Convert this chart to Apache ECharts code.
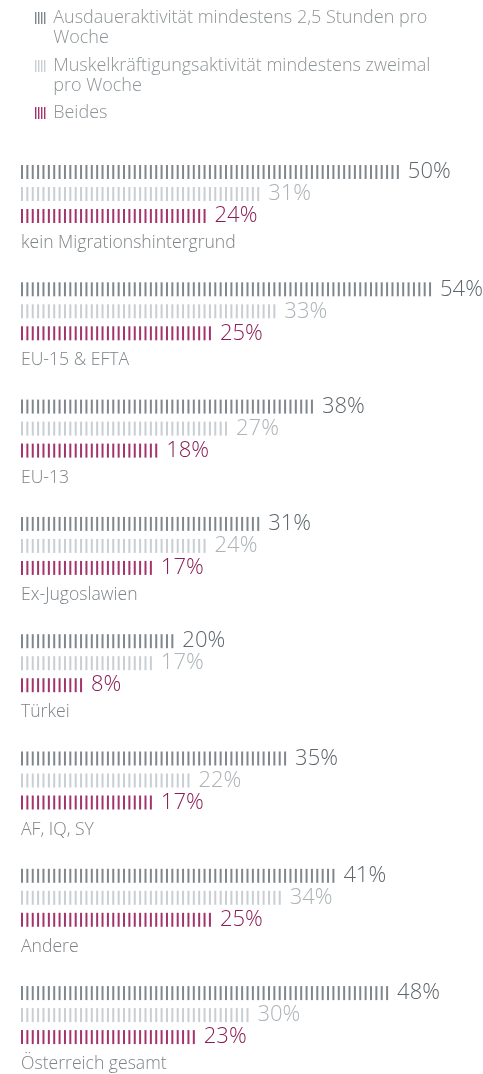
<!DOCTYPE html>
<html>
<head>
<meta charset="utf-8">
<script src="https://cdn.jsdelivr.net/npm/echarts@6/dist/echarts.min.js"></script>
<style>
  html, body { margin: 0; padding: 0; background: #fff; }
  #chart { width: 483px; height: 1074px; }
</style>
</head>
<body>
<div id="chart"></div>
<script>
// Daten
var categories = ['kein Migrationshintergrund', 'EU-15 & EFTA', 'EU-13', 'Ex-Jugoslawien', 'Türkei', 'AF, IQ, SY', 'Andere', 'Österreich gesamt'];
var seriesNames = ['Ausdaueraktivität mindestens 2,5 Stunden pro Woche', 'Muskelkräftigungsaktivität mindestens zweimal pro Woche', 'Beides'];
var ausdauer = [50, 54, 38, 31, 20, 35, 41, 48];
var muskel = [31, 33, 27, 24, 17, 22, 34, 30];
var beides = [24, 25, 18, 17, 8, 17, 25, 23];

var barColors = ['#80878c', '#c9ced2', '#a2336c'];
var labelColors = ['#5f676c', '#adb3b7', '#8a1f55'];
var font = 'Open Sans';

var myChart = echarts.init(document.getElementById('chart'));

var values = [ausdauer, muskel, beides];
var grids = [], xAxes = [], yAxes = [], series = [], titles = [];
var step = 117.3;

for (var g = 0; g < categories.length; g++) {
    grids.push({ left: 21, top: 161 + g * step, width: 453, height: 66 });
    xAxes.push({ type: 'value', gridIndex: g, min: 0, max: 60, show: false });
    yAxes.push({ type: 'category', gridIndex: g, inverse: true, data: ['a', 'm', 'b'], show: false });
    titles.push({
        text: categories[g], left: 21, top: 234 + g * step, padding: 0,
        textStyle: { fontFamily: font, fontSize: 17.6, fontWeight: 300, color: '#7d8387' }
    });
    for (var s = 0; s < 3; s++) {
        var d = ['-', '-', '-'];
        d[s] = values[s][g];
        series.push({
            type: 'pictorialBar',
            name: seriesNames[s],
            xAxisIndex: g,
            yAxisIndex: g,
            symbol: 'rect',
            symbolRepeat: true,
            symbolSize: [2, 14],
            symbolMargin: 1.7,
            symbolPosition: 'start',
            itemStyle: { color: barColors[s] },
            label: {
                show: true, position: 'right', distance: 9, formatter: '{c}%',
                fontFamily: font, fontSize: 22, fontWeight: 300, color: labelColors[s]
            },
            data: d
        });
    }
}

var legendIcon = 'path://M0,0h1.4v12h-1.4z M3,0h1.4v12h-1.4z M6,0h1.4v12h-1.4z M9,0h1.4v12h-1.4z';
function legend(name, top, lines) {
    var text = lines.map(function (l) { return '{t|' + l + '}'; }).join('\n');
    if (lines.length > 1) text = '{pad| }\n' + text;
    return {
        data: [name], left: 35, top: top, padding: 0,
        icon: legendIcon, itemWidth: 12, itemHeight: 12,
        selectedMode: false,
        formatter: function () { return text; },
        textStyle: {
            rich: {
                pad: { height: 20, lineHeight: 20, fontSize: 10 },
                t: { fontFamily: font, fontSize: 18, fontWeight: 300, color: '#8d9397', lineHeight: 20, padding: [0, 0, 0, 2] }
            }
        }
    };
}

var option = {
    animation: false,
    title: titles,
    legend: [
        legend(seriesNames[0], -12, ['Ausdaueraktivität mindestens 2,5 Stunden pro', 'Woche']),
        legend(seriesNames[1], 36, ['Muskelkräftigungsaktivität mindestens zweimal', 'pro Woche']),
        legend(seriesNames[2], 104, ['Beides'])
    ],
    grid: grids,
    xAxis: xAxes,
    yAxis: yAxes,
    series: series
};

myChart.setOption(option);
</script>
</body>
</html>
